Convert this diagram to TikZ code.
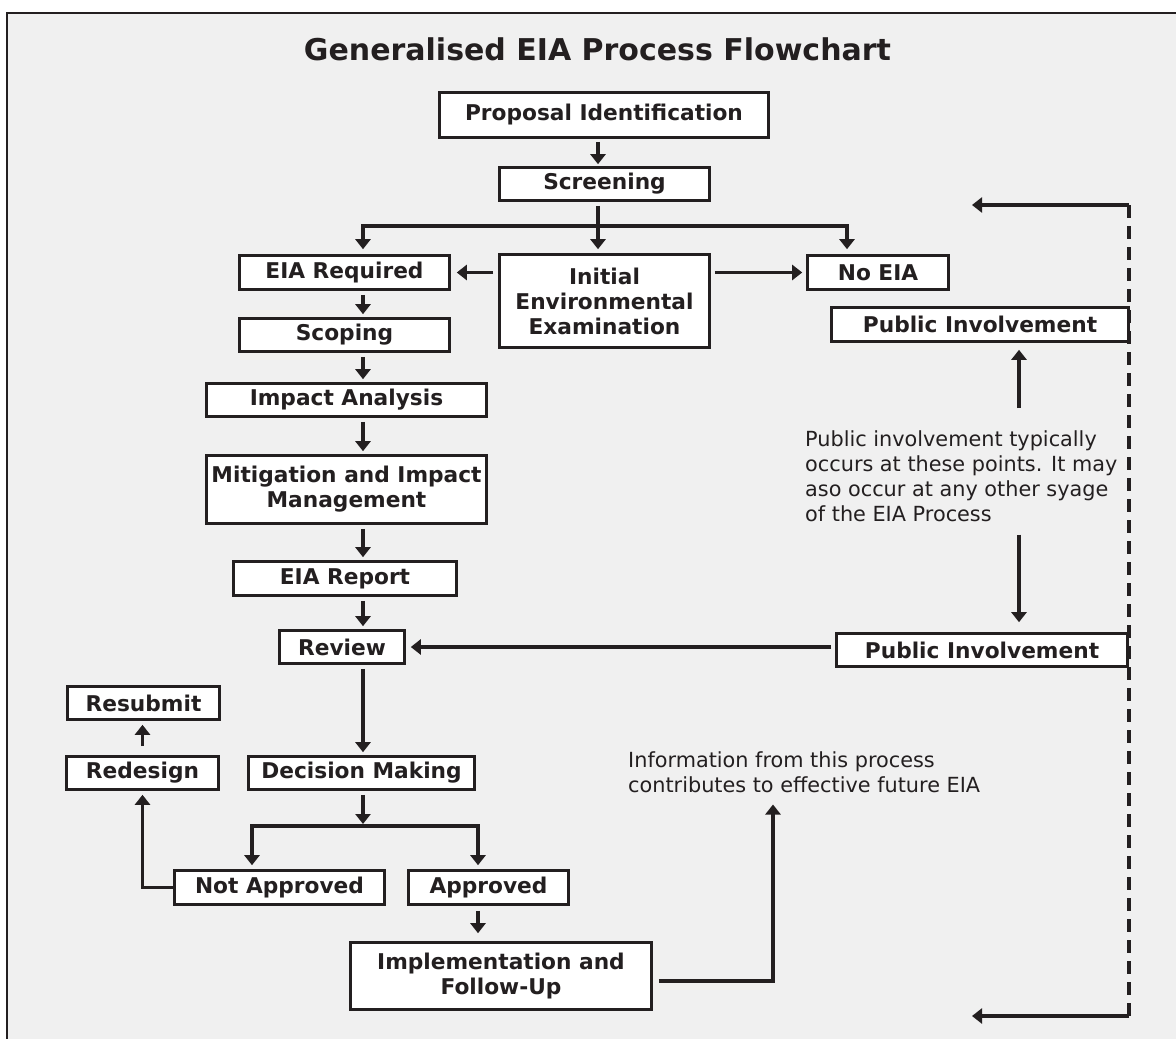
\documentclass[tikz,border=0pt]{standalone}
\usepackage{fontspec}
\setmainfont{DejaVu Sans}
\usetikzlibrary{
  arrows.meta,
  positioning,
  calc
}
\definecolor{inkcolor}{HTML}{231F20}
\definecolor{panelcolor}{HTML}{F0F0F0}
\tikzset{
boxtext/.style={
  align=center,
  font=\fontsize{21.7}{25}\selectfont\bfseries,
  text=inkcolor
},
procbox/.style={
  draw=inkcolor,
  line width=2.6pt,
  fill=white,
  inner sep=0pt,
  minimum height=34pt,
  boxtext
},
notetext/.style={
  align=left,
  font=\fontsize{20.8}{25}\selectfont,
  text=inkcolor,
  inner sep=0pt,
  anchor=north west
},
titletext/.style={
  font=\fontsize{30}{36}\selectfont\bfseries,
  text=inkcolor,
  anchor=base
},
flowarrow/.style={
  -{Triangle[length=10pt,width=15pt]},
  line width=3.2pt,
  draw=inkcolor
},
feedbackline/.style={
  draw=inkcolor,
  line width=3.4pt,
  dash pattern=on 13pt off 8pt
}
}

\begin{document}
\begin{tikzpicture}[x=1pt,y=-1pt]
  \useasboundingbox (0,0) rectangle (1176,1039);
  \clip (0,0) rectangle (1176,1039);
  \fill[white] (0,0) rectangle (1176,1039);
  \draw[draw=inkcolor, line width=2pt, fill=panelcolor] (6.7,12.7) rectangle (1200,1060);

  \node[titletext] (title) at (597.5,60) {Generalised EIA Process Flowchart};

  % main column
  \node[procbox, minimum width=329pt, minimum height=45pt] (prop) at (604,115) {Proposal Identification};
  \node[procbox, minimum width=210pt, minimum height=33pt] (screen) at (604.5,184) {Screening};
  \node[procbox, minimum width=210pt] (eiareq) at (344.5,272.5) {EIA Required};
  \node[procbox, minimum width=210pt, minimum height=93pt] (iee) at (604.5,301) {Initial\\Environmental\\Examination};
  \node[procbox, minimum width=141pt] (noeia) at (878,272.5) {No EIA};
  \node[procbox, minimum width=210pt, minimum height=33pt] (scope) at (344.5,335) {Scoping};
  \node[procbox, minimum width=280pt, minimum height=33pt] (impact) at (346.5,400) {Impact Analysis};
  \node[procbox, minimum width=280pt, minimum height=68pt] (mitig) at (346.5,489.5) {Mitigation and Impact\\Management};
  \node[procbox, minimum width=223pt] (report) at (345,578.5) {EIA Report};
  \node[procbox, minimum width=125pt, minimum height=33pt] (review) at (342,647) {Review};
  \node[procbox, minimum width=226pt, minimum height=33pt] (decide) at (361.5,773) {Decision Making};
  \node[procbox, minimum width=210pt] (notapp) at (279.5,887.5) {Not Approved};
  \node[procbox, minimum width=160pt] (approved) at (488.5,887.5) {Approved};
  \node[procbox, minimum width=301pt, minimum height=67pt] (implement) at (501,976) {Implementation and\\Follow-Up};
  \node[procbox, minimum width=152pt, minimum height=33pt] (redesign) at (142.5,773) {Redesign};
  \node[procbox, minimum width=152pt, minimum height=33pt] (resubmit) at (143.5,703) {Resubmit};

  % public involvement side
  \node[procbox, minimum width=297pt] (pubA) at (980,324.5) {Public Involvement};
  \node[procbox, minimum width=291pt, minimum height=33pt] (pubB) at (982,650) {Public Involvement};
  \node[notetext] (pubnote) at (805,430) {Public involvement typically\\occurs at these points. It may\\aso occur at any other syage\\of the EIA Process};
  \node[notetext] (info) at (628,751) {Information from this process\\contributes to effective future EIA};

  % connector columns
  \coordinate (midcol) at (598,0);
  \coordinate (spine) at (363,0);
  \coordinate (noeiacol) at (847,0);
  \coordinate (fork) at (598,226);
  \coordinate (split) at (363,826);
  \coordinate (naycol) at (252,0);
  \coordinate (yeacol) at (478,0);
  \coordinate (infocol) at (773,0);
  \coordinate (notecol) at (1019,0);
  \coordinate (fbtop) at (1129,205);
  \coordinate (fbbot) at (1129,1016);
  \coordinate (fbtopend) at (972,205);
  \coordinate (fbbotend) at (972,1016);

  \draw[flowarrow, shorten <=3pt, shorten >=2pt] (prop.south -| midcol) -- (screen.north -| midcol);
  \draw[flowarrow, shorten <=4pt, shorten >=4pt] (screen.south -| midcol) -- (iee.north -| midcol);
  \draw[flowarrow, shorten >=5pt] (fork) -| (eiareq.north -| spine);
  \draw[flowarrow, shorten >=5pt] (fork) -| (noeia.north -| noeiacol);
  \draw[flowarrow, shorten <=5pt, shorten >=6pt] (iee.west |- eiareq.east) -- (eiareq.east);
  \draw[flowarrow, shorten <=4pt, shorten >=4pt] (iee.east |- noeia.west) -- (noeia.west);

  \foreach \a/\b in {eiareq/scope, scope/impact, impact/mitig, mitig/report, report/review, review/decide}
    \draw[flowarrow, shorten <=4pt, shorten >=3pt] (\a.south -| spine) -- (\b.north -| spine);

  \draw[flowarrow, shorten <=4pt, shorten >=2pt] (decide.south -| spine) -- (split);
  \draw[flowarrow, shorten >=4pt] (split) -| (notapp.north -| naycol);
  \draw[flowarrow, shorten >=4pt] (split) -| (approved.north -| yeacol);
  \draw[flowarrow, shorten <=5pt, shorten >=8pt] (approved.south -| yeacol) -- (implement.north -| yeacol);
  \draw[flowarrow, shorten >=4pt] (notapp.west) -| (redesign.south);
  \draw[flowarrow, shorten <=9pt, shorten >=4pt] (redesign.north) -- (resubmit.south -| redesign.north);
  \draw[flowarrow, shorten <=6pt, shorten >=12pt] ([yshift=-5pt]implement.east) -| (info.south -| infocol);

  \draw[flowarrow, shorten <=22pt, shorten >=7pt] (pubnote.north -| notecol) -- (pubA.south -| notecol);
  \draw[flowarrow, shorten <=13pt, shorten >=10pt] (pubnote.south -| notecol) -- (pubB.north -| notecol);
  \draw[flowarrow, shorten <=4pt, shorten >=5pt] (pubB.west |- review.east) -- (review.east);

  % feedback loop
  \draw[feedbackline] (fbtop) -- (fbbot);
  \draw[flowarrow] (fbtop) -- (fbtopend);
  \draw[flowarrow] (fbbot) -- (fbbotend);
\end{tikzpicture}
\end{document}
